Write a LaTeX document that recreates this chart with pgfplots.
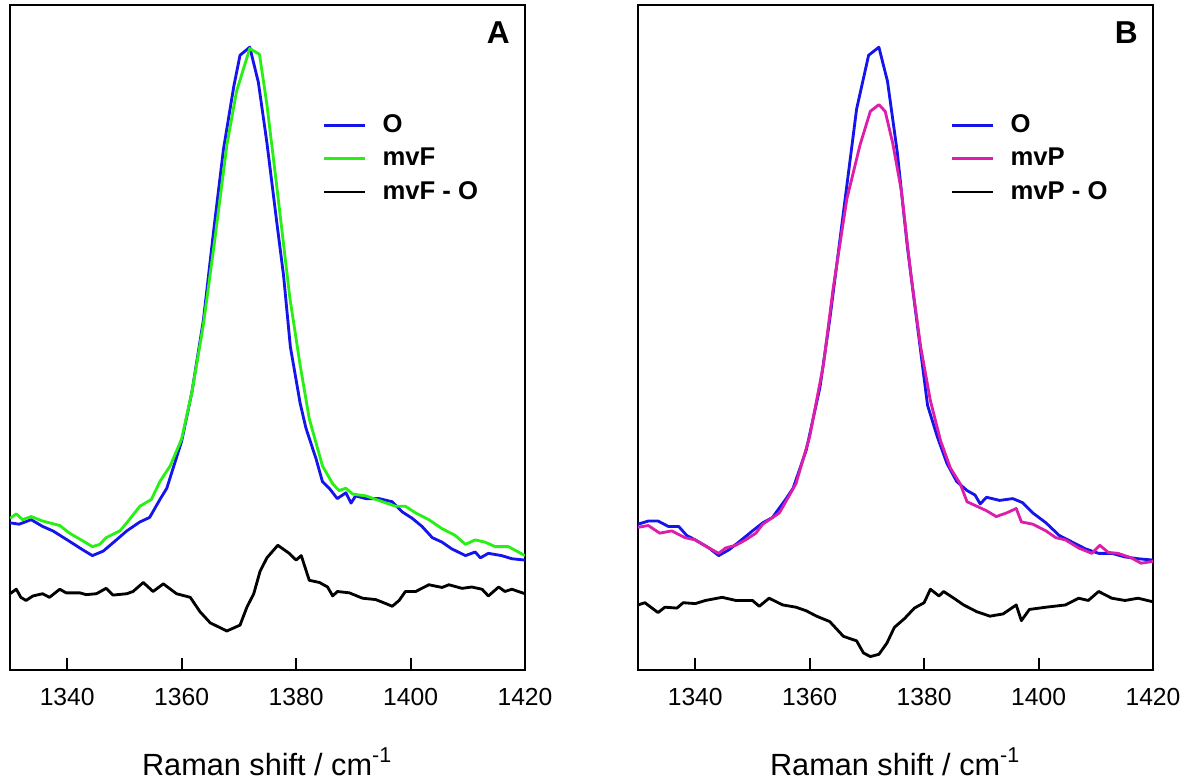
\documentclass[border=0pt]{standalone}
\usepackage{fontspec}
\setmainfont{Liberation Sans}
\usepackage{pgfplots}
\pgfplotsset{compat=1.18}
\definecolor{specblue}{RGB}{20,20,235}
\definecolor{specgreen}{RGB}{40,240,20}
\definecolor{specmag}{RGB}{220,30,170}

\pgfplotsset{raman/.style={
    scale only axis,
    width=154.5pt, height=199.5pt,
    xmin=1330, xmax=1420, ymin=0, ymax=148.2,
    xtick={1340,1360,1380,1400,1420},
    ytick=\empty,
    tick align=inside, xtick pos=bottom,
    major tick length=3.6pt,
    axis line style={line width=0.7pt},
    major tick style={line width=0.6pt, black},
    /pgf/number format/assume math mode=true,
    /pgf/number format/1000 sep={},
    xticklabel style={font=\fontsize{7.4}{8}\selectfont, anchor=center, yshift=-8.1pt},
    xlabel={Raman shift / cm\textsuperscript{-1}},
    xlabel style={font=\fontsize{9.2}{10}\selectfont, at={(axis description cs:0.5,0)}, anchor=center, yshift=-27.6pt},
    every axis plot/.append style={line width=0.85pt, line join=round},
    legend cell align=left,
    legend image code/.code={\draw[##1] (0pt,0pt) -- (12.3pt,0pt);},
    legend style={draw=none, fill=none, inner sep=0pt,
        at={(axis description cs:0.606,0.842)}, anchor=north west,
        font=\bfseries\fontsize{7.7}{9}\selectfont,
        nodes={inner sep=0.8pt, text height=5.7pt, text depth=1.4pt},
        row sep=1.3pt, column sep=4pt},
}}

\begin{document}
\begin{tikzpicture}
\path[use as bounding box] (-3pt,-33pt) rectangle (352.5pt,201pt);

% panel A
\begin{axis}[raman]
\addplot[specblue] coordinates {
(1330,32.8)(1331.6,32.5)(1333.7,33.5)(1335.7,32.0)(1337.5,31.0)(1340,29.0)
(1342.7,26.8)(1344.4,25.5)(1346.3,26.5)(1348.6,29.0)(1350.4,31.0)(1352.7,33.0)
(1354.4,34.0)(1356.2,38.0)(1357.4,40.5)(1360,51.0)(1361.8,62.0)(1363.8,78.0)
(1365.6,98.0)(1367.3,116.0)(1369.1,130.0)(1370.2,137.0)(1371.9,138.8)(1373.4,131.0)
(1374.9,117.5)(1376.6,100.0)(1377.8,88.0)(1379.0,72.0)(1380.7,59.5)(1381.7,54.0)
(1383.5,47.0)(1384.6,42.0)(1385.8,40.5)(1387.2,38.2)(1388.7,39.5)(1389.6,37.2)
(1390.4,38.8)(1392.2,38.2)(1394.5,38.2)(1396.8,37.5)(1398.6,35.2)(1400.3,33.8)
(1402.0,32.0)(1403.8,29.5)(1405.5,28.5)(1407.2,27.0)(1409.6,25.5)(1411.3,26.3)
(1412.2,25.0)(1413.6,26.0)(1415.9,25.5)(1417.7,24.8)(1420,24.5)
};
\addlegendentry{O}
\addplot[specgreen] coordinates {
(1330,33.8)(1331.1,34.8)(1332.2,33.5)(1333.7,34.2)(1335.7,33.2)(1338.7,32.2)
(1340.4,30.5)(1342.7,28.8)(1344.4,27.5)(1345.7,28.0)(1346.8,29.5)(1349.2,31.0)
(1350.4,32.8)(1352.7,36.5)(1354.7,38.0)(1356.2,42.0)(1358.0,45.5)(1360.0,51.5)
(1361.8,62.0)(1363.8,77.0)(1365.8,96.0)(1367.9,117.0)(1369.6,129.0)(1371.9,138.5)
(1373.6,137.2)(1374.9,126.0)(1376.6,108.0)(1378.9,83.0)(1380.7,68.0)(1382.3,56.0)
(1384.6,45.5)(1386.4,41.5)(1387.5,40.0)(1388.7,40.5)(1389.9,39.2)(1392.2,38.8)
(1395.1,37.5)(1397.4,36.5)(1399.1,36.5)(1400.9,35.0)(1403.2,33.5)(1405.5,31.5)
(1407.8,30.0)(1409.6,28.0)(1411.3,29.0)(1413.0,28.5)(1414.8,27.5)(1417.1,27.5)
(1420,25.5)
};
\addlegendentry{mvF}
\addplot[black] coordinates {
(1330,17.0)(1331.1,18.0)(1331.9,16.2)(1332.8,15.5)(1334.0,16.5)(1335.7,17.0)
(1336.9,16.2)(1338.7,18.0)(1339.8,17.2)(1342.2,17.2)(1343.3,16.8)(1345.1,17.0)
(1346.8,18.2)(1348.0,16.7)(1350.4,17.0)(1351.5,17.5)(1353.3,19.5)(1355.0,17.5)
(1356.8,19.2)(1359.1,17.0)(1361.5,16.2)(1363.2,13.0)(1365.0,10.5)(1367.9,8.7)
(1370.2,10.0)(1371.4,14.0)(1372.6,17.0)(1373.7,22.0)(1374.9,25.0)(1376.8,27.8)
(1378.8,26.0)(1380.0,24.5)(1380.9,25.5)(1382.3,20.0)(1384.1,19.5)(1385.5,18.5)
(1386.4,16.5)(1387.2,17.5)(1389.3,17.2)(1391.6,16.0)(1393.9,15.7)(1395.7,14.8)
(1396.8,14.2)(1398.0,15.5)(1399.1,17.5)(1400.9,17.5)(1403.2,19.0)(1405.5,18.4)
(1406.7,19.0)(1409.0,18.2)(1410.7,18.5)(1412.5,18.0)(1413.6,16.5)(1415.4,18.5)
(1416.5,17.5)(1417.7,18.0)(1420,17.0)
};
\addlegendentry{mvF - O}
\node[font=\bfseries\fontsize{9.5}{11}\selectfont] at (rel axis cs:0.948,0.959) {A};
\end{axis}

% panel B
\begin{axis}[raman, at={(188.4pt,0pt)}]
\addplot[specblue] coordinates {
(1330,32.5)(1331.8,33.2)(1333.5,33.2)(1335.3,32.0)(1337.1,32.0)(1338.5,30.0)
(1340,29.0)(1342.4,27.2)(1344.1,25.5)(1345.9,26.8)(1347.6,28.5)(1350.0,31.0)
(1351.8,32.8)(1353.5,34.0)(1355.9,38.2)(1357.1,40.5)(1359.4,49.0)(1361.8,63.0)
(1363.5,78.0)(1365.9,102.0)(1368.2,125.0)(1370.3,137.0)(1372.1,138.8)(1373.6,131.2)
(1375.3,115.5)(1377.1,94.0)(1378.9,76.0)(1380.6,59.0)(1382.3,52.0)(1384.0,46.0)
(1385.7,42.0)(1387.5,40.0)(1388.9,39.0)(1389.8,37.0)(1390.9,38.5)(1393.2,37.8)
(1395.5,38.2)(1397.2,37.3)(1399.0,35.0)(1401.3,32.8)(1403.6,30.0)(1405.9,28.5)
(1408.2,27.0)(1410.5,26.0)(1412.8,26.0)(1415.1,25.2)(1417.4,24.8)(1420,24.5)
};
\addlegendentry{O}
\addplot[specmag] coordinates {
(1330,31.8)(1331.8,32.2)(1333.8,30.5)(1335.9,31.0)(1338.2,29.5)(1340,29.0)
(1342.4,27.2)(1344.1,26.0)(1345.3,27.2)(1347.1,27.8)(1348.8,29.0)(1350.6,30.5)
(1351.8,32.5)(1354.7,35.0)(1357.6,41.5)(1360.0,52.0)(1362.4,68.0)(1364.1,85.0)
(1366.5,105.0)(1368.8,117.0)(1370.6,124.5)(1372.1,126.0)(1373.2,124.5)(1374.5,117.5)
(1376.0,107.0)(1377.7,88.0)(1379.4,72.0)(1381.1,60.0)(1382.9,51.0)(1384.6,45.0)
(1386.3,41.5)(1387.5,37.5)(1389.2,36.5)(1390.9,35.5)(1392.6,34.2)(1394.4,35.0)
(1396.1,36.0)(1397.0,33.0)(1399.0,32.5)(1401.3,31.0)(1403.0,29.5)(1404.7,29.0)
(1407.0,27.2)(1409.3,26.0)(1410.7,27.8)(1412.2,26.2)(1413.9,26.0)(1416.2,25.0)
(1417.9,23.8)(1420,24.2)
};
\addlegendentry{mvP}
\addplot[black] coordinates {
(1330,14.5)(1331.2,15.0)(1333.5,12.8)(1334.7,14.0)(1336.8,13.8)(1337.9,15.0)
(1340,14.8)(1341.8,15.5)(1344.7,16.2)(1347.1,15.5)(1350.0,15.5)(1351.2,14.2)
(1352.9,16.0)(1355.3,14.5)(1357.6,14.0)(1359.4,13.2)(1361.2,12.0)(1363.5,10.8)
(1365.9,7.5)(1368.2,6.5)(1369.4,3.8)(1370.6,3.0)(1372.1,3.5)(1373.5,6.0)
(1374.8,9.5)(1376.6,11.5)(1378.3,13.8)(1380.0,15.0)(1381.1,18.0)(1382.6,16.5)
(1383.4,17.5)(1385.2,16.0)(1386.9,14.5)(1389.2,13.0)(1391.5,12.0)(1393.8,12.5)
(1396.1,14.5)(1397.0,11.0)(1398.4,13.5)(1401.3,14.0)(1404.7,14.5)(1407.0,16.0)
(1408.7,15.5)(1410.5,17.5)(1412.8,16.0)(1415.1,15.5)(1417.4,16.0)(1420,15.2)
};
\addlegendentry{mvP - O}
\node[font=\bfseries\fontsize{9.5}{11}\selectfont] at (rel axis cs:0.948,0.959) {B};
\end{axis}
\end{tikzpicture}
\end{document}
